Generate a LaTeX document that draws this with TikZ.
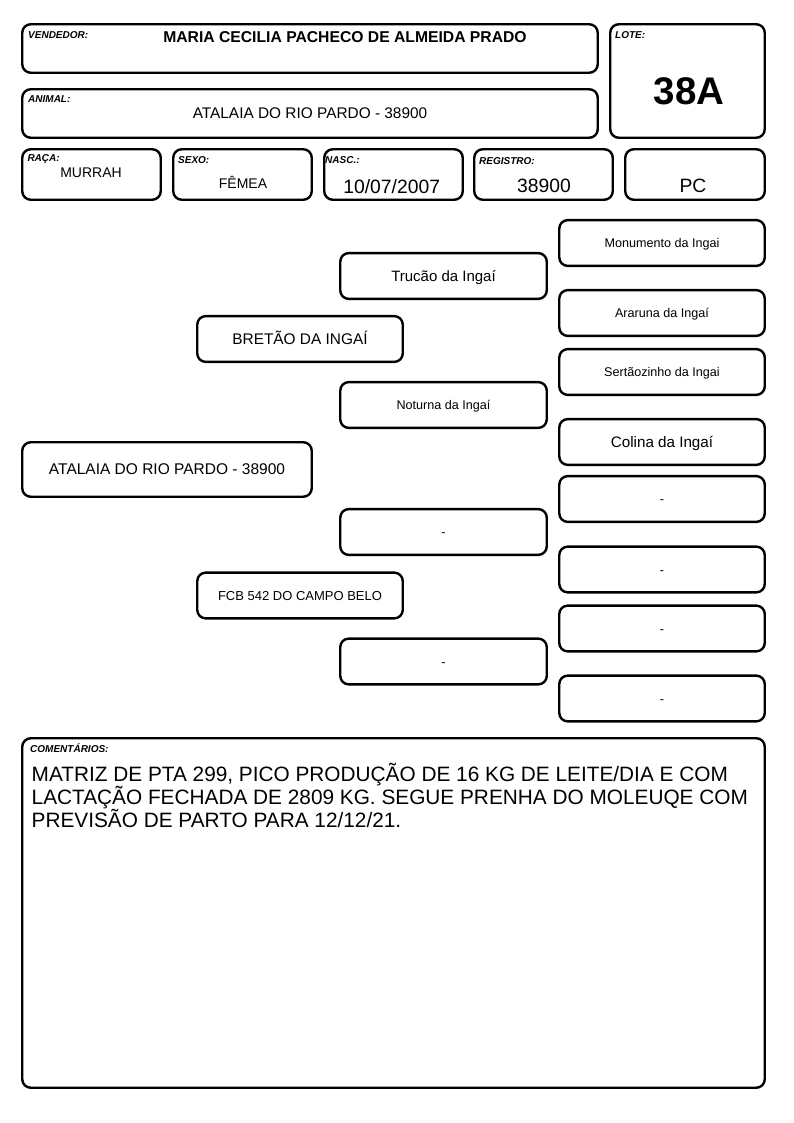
\documentclass[tikz,border=0pt]{standalone}
\usepackage{fontspec}
\setmainfont{Liberation Sans}
\newcommand\fsz[1]{\fontsize{#1}{#1}\selectfont}
\begin{document}
\begin{tikzpicture}[x=1pt,y=-1pt,
  box/.style={draw, line width=2.4pt, rounded corners=8.5pt, inner sep=0pt},
  lbl/.style={font=\fsz{10}\bfseries\itshape, anchor=base west, inner sep=0pt},
  val/.style={anchor=base, inner sep=0pt},
  pedR/.style={box, minimum width=205.5pt, minimum height=45.8pt},
  pedM/.style={box, minimum width=206.5pt, minimum height=45.8pt},
  pedL/.style={box, minimum width=205.5pt, minimum height=45.8pt},
  sm/.style={font=\fsz{12.6}, text height=9pt, text depth=0pt},
  md/.style={font=\fsz{15.2}, text height=10.9pt, text depth=0pt},
  comtext/.style={anchor=base west, inner sep=0pt, font=\fsz{20.8}},
]
\useasboundingbox[fill=white] (0,0) rectangle (794,1123);

% header boxes
\node[box, minimum width=575.5pt, minimum height=48.5pt] (vend) at (310,48.5) {};
\node[box, minimum width=154.5pt, minimum height=113.5pt] (lote) at (687.5,81) {};
\node[box, minimum width=575.5pt, minimum height=48.5pt] (anim) at (310,113.5) {};
\node[box, minimum width=138.5pt, minimum height=50.5pt] (raca) at (91.5,174.5) {};
\node[box, minimum width=138.5pt, minimum height=50.5pt] (sexo) at (242.5,174.5) {};
\node[box, minimum width=138.5pt, minimum height=50.5pt] (nasc) at (393.5,174.5) {};
\node[box, minimum width=138.5pt, minimum height=50.5pt] (regi) at (543.5,174.5) {};
\node[box, minimum width=139.5pt, minimum height=50.5pt] (pcx) at (695,174.5) {};

% header labels and values
\node[lbl] (vendL) at (28,39) {VENDEDOR:};
\node[val, font=\fsz{15.7}\bfseries] (vendV) at (345,43) {MARIA CECILIA PACHECO DE ALMEIDA PRADO};
\node[lbl] (loteL) at (615,39) {LOTE:};
\node[val, font=\fsz{38.5}\bfseries] (loteV) at (689,105) {38A};
\node[lbl] (animL) at (28,102.7) {ANIMAL:};
\node[val, font=\fsz{15.4}] (animV) at (310,119) {ATALAIA DO RIO PARDO - 38900};
\node[lbl] (racaL) at (27.3,161.7) {RAÇA:};
\node[val, font=\fsz{14}] (racaV) at (91,178) {MURRAH};
\node[lbl] (sexoL) at (178,164) {SEXO:};
\node[val, font=\fsz{14}] (sexoV) at (243,189) {FÊMEA};
\node[lbl] (nascL) at (325,164) {NASC.:};
\node[val, font=\fsz{19.3}] (nascV) at (391.7,193.5) {10/07/2007};
\node[lbl] (regiL) at (479,165) {REGISTRO:};
\node[val, font=\fsz{19.3}] (regiV) at (544,192.5) {38900};
\node[val, font=\fsz{19.3}] (pcV) at (693,192.5) {PC};

% pedigree
\node[box, minimum width=289.5pt, minimum height=54.5pt, md, font=\fsz{15.5}] (an) at (167,469.5) {ATALAIA DO RIO PARDO - 38900};
\node[pedL, md, font=\fsz{15.4}] (pai) at (300,339) {BRETÃO DA INGAÍ};
\node[pedL, font=\fsz{13}, text height=9.3pt, text depth=0pt] (mae) at (300,595.5) {FCB 542 DO CAMPO BELO};
\node[pedM, md, font=\fsz{15}] (pp) at (443.5,276) {Trucão da Ingaí};
\node[pedM, sm] (pm) at (443.5,405) {Noturna da Ingaí};
\node[pedM, sm] (mp) at (443.5,532) {-};
\node[pedM, sm] (mm) at (443.5,661.5) {-};
\node[pedR, sm] (ppp) at (662,243) {Monumento da Ingai};
\node[pedR, sm] (ppm) at (662,313) {Araruna da Ingaí};
\node[pedR, sm] (pmp) at (662,372) {Sertãozinho da Ingai};
\node[pedR, md] (pmm) at (662,442) {Colina da Ingaí};
\node[pedR, sm] (mpp) at (662,499) {-};
\node[pedR, sm] (mpm) at (662,569.5) {-};
\node[pedR, sm] (mmp) at (662,628.5) {-};
\node[pedR, sm] (mmm) at (662,698.5) {-};

% comments
\node[box, minimum width=742.5pt, minimum height=349.5pt] (com) at (393.5,913) {};
\node[lbl] (comL) at (30,752) {COMENTÁRIOS:};
\node[comtext] (c1) at (31.5,781.5) {MATRIZ DE PTA 299, PICO PRODUÇÃO DE 16 KG DE LEITE/DIA E COM};
\node[comtext] (c2) at (31.5,804.5) {LACTAÇÃO FECHADA DE 2809 KG. SEGUE PRENHA DO MOLEUQE COM};
\node[comtext] (c3) at (31.5,827.5) {PREVISÃO DE PARTO PARA 12/12/21.};
\end{tikzpicture}
\end{document}
